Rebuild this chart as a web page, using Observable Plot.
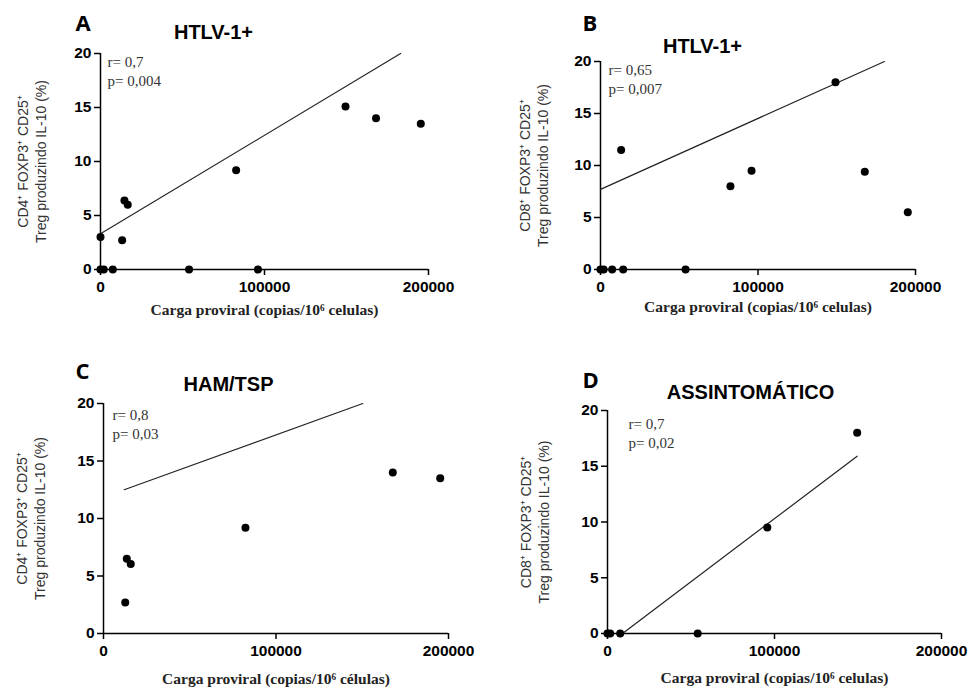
<!DOCTYPE html>
<html><head><meta charset="utf-8">
<script src="https://cdn.jsdelivr.net/npm/d3@7"></script>
<script src="https://cdn.jsdelivr.net/npm/@observablehq/plot@0.6"></script>
<style>
body{margin:0;background:#fff;}
#root{position:relative;width:969px;height:691px;overflow:hidden;background:#fff;}
#root svg{position:absolute;}
</style></head><body><div id="root"></div>
<script>
// ---- data ----
const xTicks = [0, 100000, 200000];
const yTicks = [0, 5, 10, 15, 20];
const panelLetters = ["A", "B", "C", "D"];
const panelTitles = ["HTLV-1+", "HTLV-1+", "HAM/TSP", "ASSINTOMÁTICO"];
const statsText = ["r= 0,7\np= 0,004", "r= 0,65\np= 0,007", "r= 0,8\np= 0,03", "r= 0,7\np= 0,02"];
const yLabels = [
  "CD4⁺ FOXP3⁺ CD25⁺\nTreg produzindo IL-10 (%)",
  "CD8⁺ FOXP3⁺ CD25⁺\nTreg produzindo IL-10 (%)",
  "CD4⁺ FOXP3⁺ CD25⁺\nTreg produzindo IL-10 (%)",
  "CD8⁺ FOXP3⁺ CD25⁺\nTreg produzindo IL-10 (%)"
];
const xLabels = [
  "Carga proviral (copias/10⁶ celulas)",
  "Carga proviral (copias/10⁶ celulas)",
  "Carga proviral (copias/10⁶ células)",
  "Carga proviral (copias/10⁶ celulas)"
];

// Panel A: CD4 HTLV-1+
const aLoad = [0, 0, 2000, 7500, 13200, 14600, 16600, 54000, 96000, 82700, 149400, 168000, 195300];
const aTreg = [3.0, 0, 0, 0, 2.7, 6.4, 6.0, 0, 0, 9.2, 15.1, 14.0, 13.5];
const aFitLoad = [0, 183000];
const aFitTreg = [3.3, 20];

// Panel B: CD8 HTLV-1+
const bLoad = [0, 2000, 7400, 14400, 13100, 54000, 82500, 95900, 149200, 167800, 195100];
const bTreg = [0, 0, 0, 0, 11.5, 0, 8.0, 9.5, 18.0, 9.4, 5.5];
const bFitLoad = [0, 180300];
const bFitTreg = [7.7, 20];

// Panel C: CD4 HAM/TSP
const cLoad = [12600, 13500, 15800, 82300, 167700, 195200];
const cTreg = [2.7, 6.5, 6.05, 9.2, 14.0, 13.5];
const cFitLoad = [12000, 150300];
const cFitTreg = [12.5, 20];

// Panel D: CD8 assintomático
const dLoad = [0, 1600, 7600, 54000, 95700, 149500];
const dTreg = [0, 0, 0, 0, 9.5, 18.0];
const dFitLoad = [9000, 149500];
const dFitTreg = [0, 15.9];

// ---- layout ----
const layouts = [
  {left: 0,   top: 0,   width: 480, height: 340, mL: 100, mR: 52, mT: 53, mB: 71,
   letter: [-25, -23], title: [113, -15], stats: [7, 32], yLab: -69, xLab: 45},
  {left: 480, top: 0,   width: 489, height: 340, mL: 120, mR: 54, mT: 61, mB: 71,
   letter: [-18, -31], title: [102, -9], stats: [8, 32], yLab: -67, xLab: 42},
  {left: 0,   top: 340, width: 480, height: 351, mL: 103, mR: 32, mT: 63, mB: 58,
   letter: [-28, -25], title: [125, -13], stats: [9, 35], yLab: -73, xLab: 50},
  {left: 480, top: 340, width: 489, height: 351, mL: 127, mR: 28, mT: 70, mB: 58,
   letter: [-25, -23], title: [143, -12], stats: [21, 37], yLab: -73, xLab: 49}
];

const series = [
  [aLoad, aTreg, aFitLoad, aFitTreg],
  [bLoad, bTreg, bFitLoad, bFitTreg],
  [cLoad, cTreg, cFitLoad, cFitTreg],
  [dLoad, dTreg, dFitLoad, dFitTreg]
];

const root = document.getElementById("root");

series.forEach(([load, treg, fitLoad, fitTreg], i) => {
  const L = layouts[i];
  const pts = load.map((x, k) => ({x, y: treg[k]}));
  const fit = fitLoad.map((x, k) => ({x, y: fitTreg[k]}));
  const svg = Plot.plot({
    width: L.width, height: L.height,
    marginLeft: L.mL, marginRight: L.mR, marginTop: L.mT, marginBottom: L.mB,
    style: {fontFamily: "'Liberation Sans', Arial, sans-serif", background: "transparent", overflow: "visible", color: "#000"},
    x: {domain: [0, 200000]},
    y: {domain: [0, 20]},
    marks: [
      Plot.axisX({ticks: xTicks, tickFormat: d3.format("d"), tickSize: 6, tickPadding: 5,
        fontSize: 15.5, fontWeight: "bold", strokeWidth: 1.5, label: null}),
      Plot.axisY({ticks: yTicks, tickFormat: d3.format("d"), tickSize: 6, tickPadding: 3,
        fontSize: 15.5, fontWeight: "bold", strokeWidth: 1.5, label: null}),
      Plot.ruleX([0], {stroke: "#000", strokeWidth: 1.5}),
      Plot.ruleY([0], {stroke: "#000", strokeWidth: 1.5}),
      Plot.line(fit, {x: "x", y: "y", stroke: "#222", strokeWidth: 1.2}),
      Plot.dot(pts, {x: "x", y: "y", r: 4, fill: "#000", stroke: "none"}),
      Plot.text([statsText[i]], {text: d => d, frameAnchor: "top-left", textAnchor: "start",
        lineAnchor: "bottom", lineHeight: 1.25, dx: L.stats[0], dy: L.stats[1],
        fontFamily: "'Liberation Serif', 'Times New Roman', serif", fontSize: 15, fill: "#333"}),
      Plot.text([panelLetters[i]], {text: d => d, frameAnchor: "top-left", textAnchor: "start",
        lineAnchor: "bottom", dx: L.letter[0], dy: L.letter[1],
        fontFamily: "'Open Sans', 'Liberation Sans', sans-serif", fontWeight: "bold", fontSize: 22, fill: "#000"}),
      Plot.text([panelTitles[i]], {text: d => d, frameAnchor: "top-left", textAnchor: "middle",
        lineAnchor: "bottom", dx: L.title[0], dy: L.title[1],
        fontFamily: "'Liberation Sans', Arial, sans-serif", fontWeight: "bold", fontSize: 20, fill: "#000"}),
      Plot.text([yLabels[i]], {text: d => d, frameAnchor: "left", textAnchor: "middle",
        lineAnchor: "middle", rotate: -90, lineHeight: 1.3, dx: L.yLab,
        fontFamily: "'Liberation Sans', Arial, sans-serif", fontSize: 14, fill: "#333"}),
      Plot.text([xLabels[i]], {text: d => d, frameAnchor: "bottom", textAnchor: "middle",
        lineAnchor: "bottom", dy: L.xLab,
        fontFamily: "'Liberation Serif', 'Times New Roman', serif", fontWeight: "bold", fontSize: 15.5, fill: "#222"})
    ]
  });
  svg.style.left = L.left + "px";
  svg.style.top = L.top + "px";
  root.appendChild(svg);
});
</script>
</body></html>
